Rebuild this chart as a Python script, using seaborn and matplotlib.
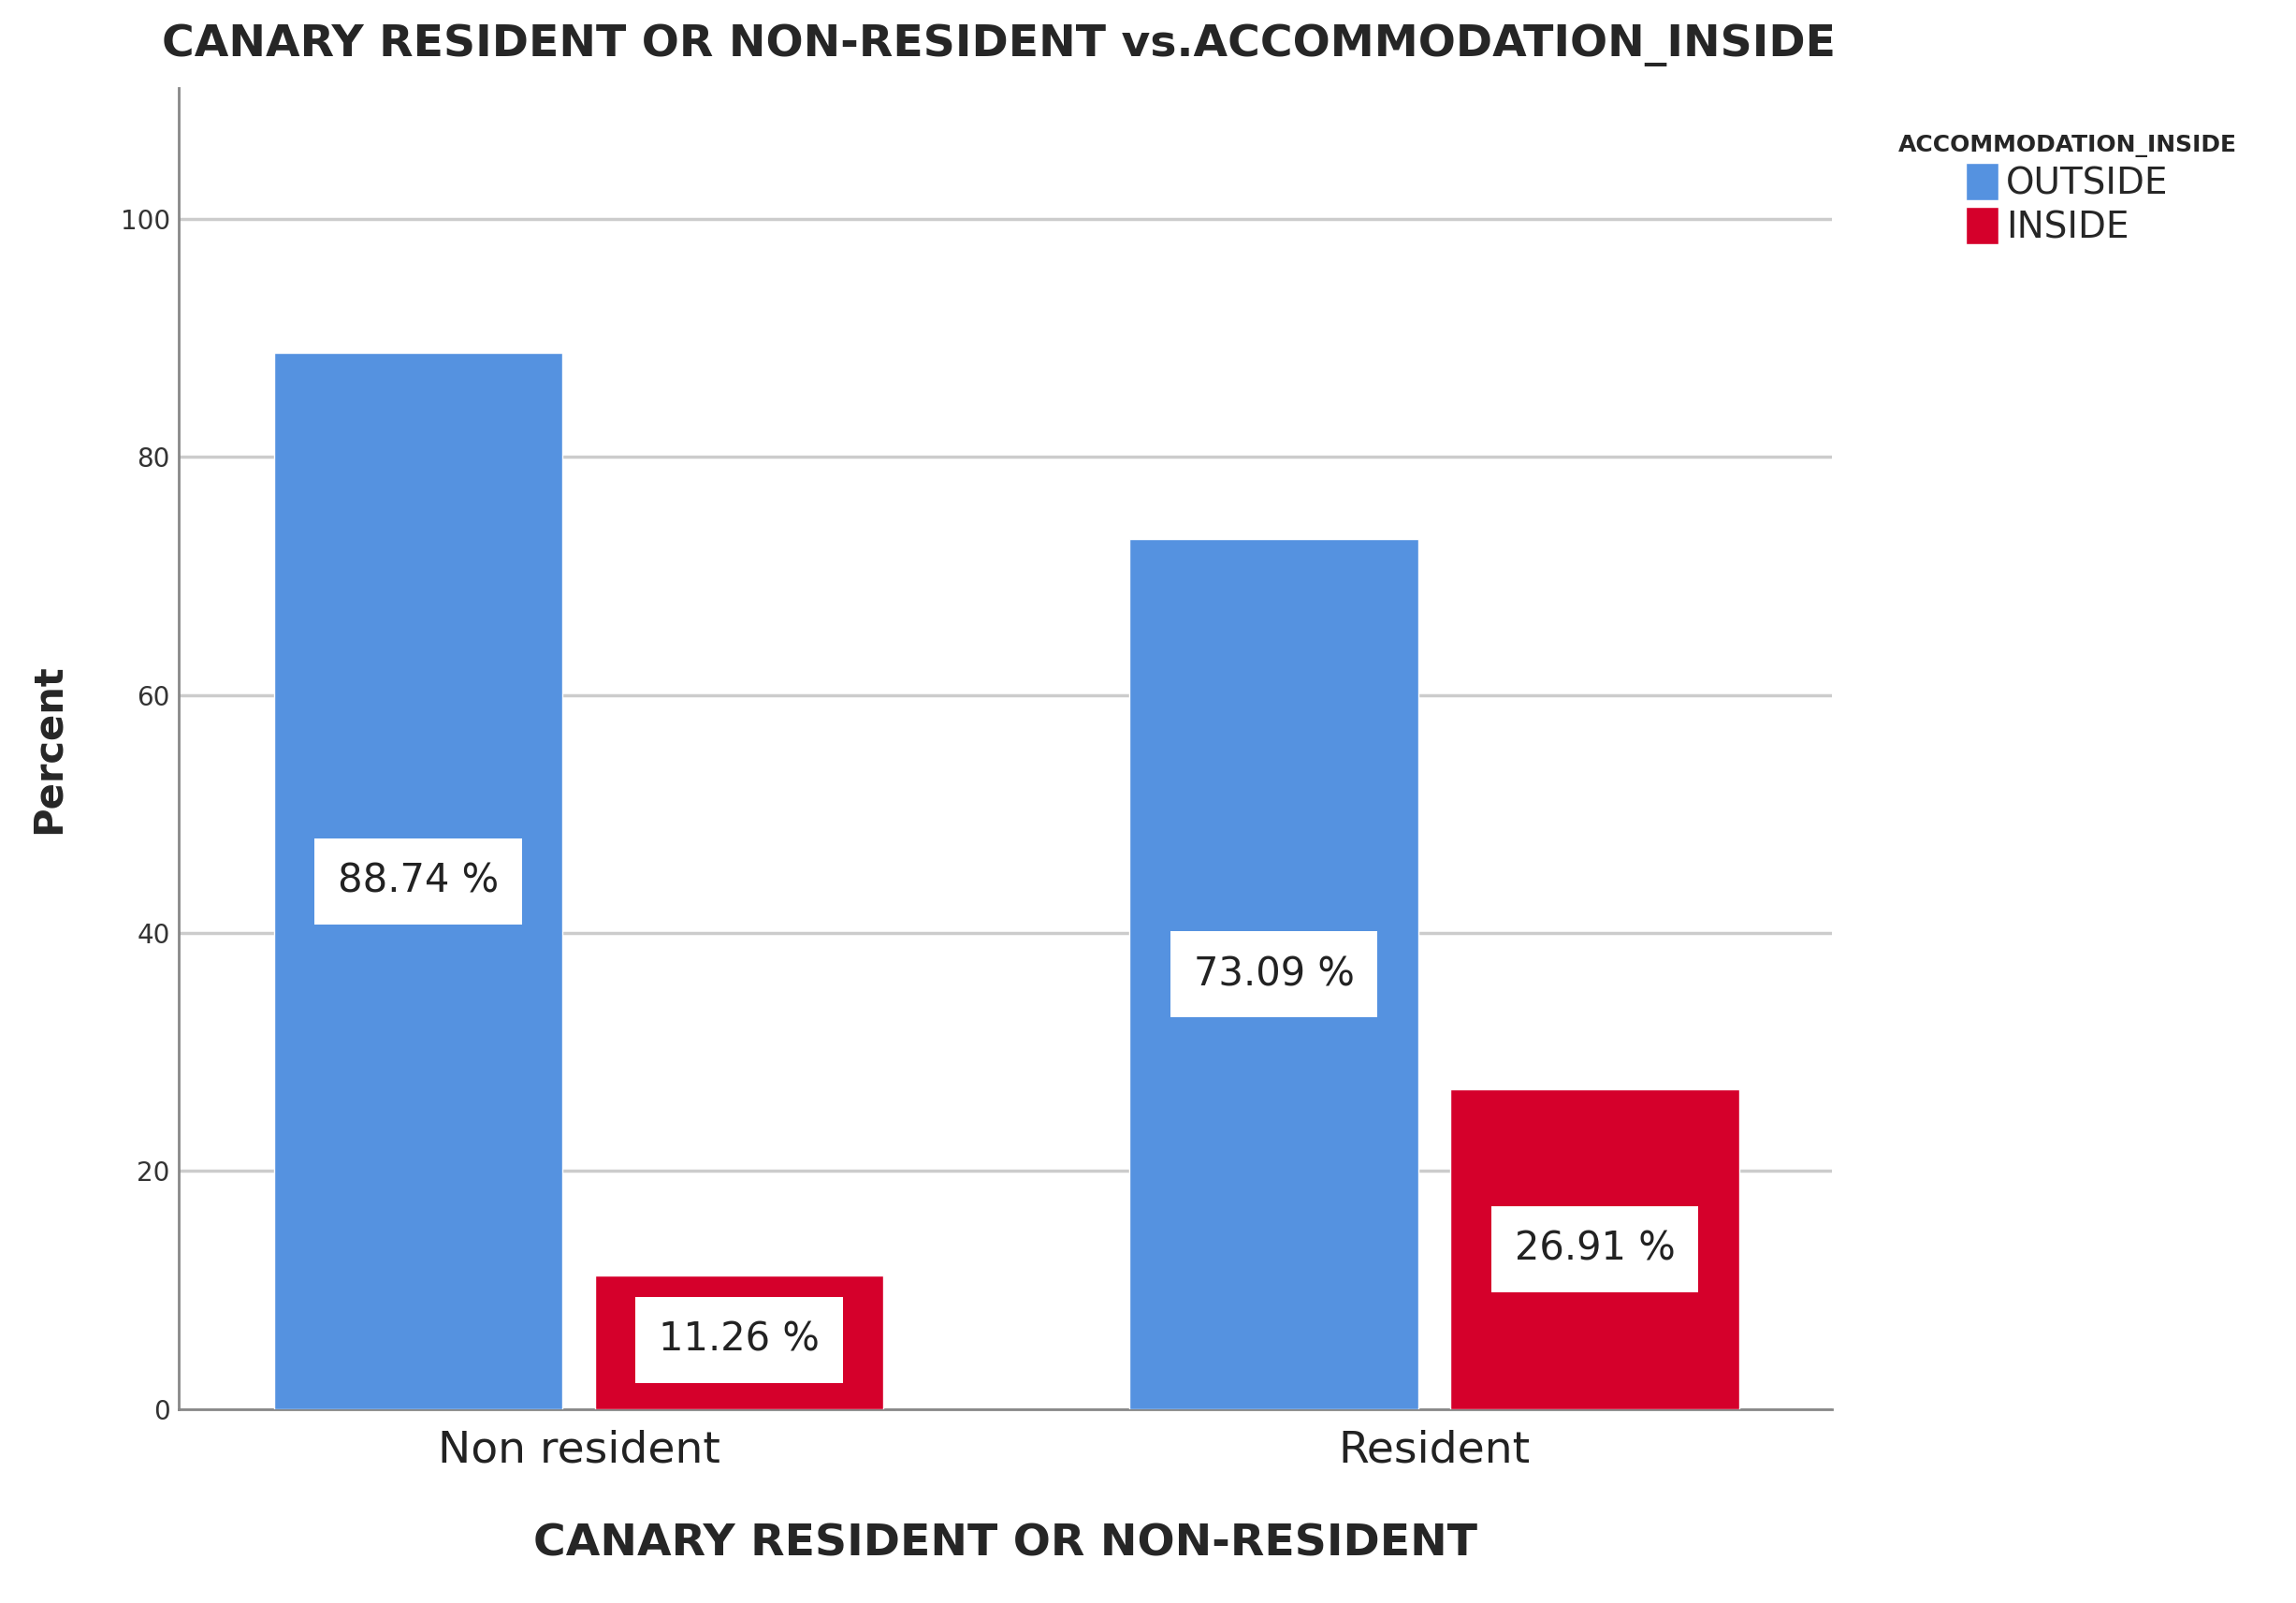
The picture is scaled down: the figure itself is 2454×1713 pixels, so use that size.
import matplotlib
matplotlib.use("Agg")
import matplotlib.pyplot as plt
import seaborn as sns
import pandas as pd

categories = ["Non resident", "Non resident", "Resident", "Resident"]
groups = ["OUTSIDE", "INSIDE", "OUTSIDE", "INSIDE"]
values = [88.74, 11.26, 73.09, 26.91]
yticks = [0, 20, 40, 60, 80, 100]

df = pd.DataFrame({"cat": categories, "grp": groups, "val": values})
sns.set_style("white")
plt.rcParams['font.family'] = ['DejaVu Sans']

fig = plt.figure(figsize=(24.54, 17.13), dpi=100)
ax = fig.add_axes([0.078, 0.121, 0.72, 0.824])
palette = {"OUTSIDE": "#5592E0", "INSIDE": "#D5002B"}
sns.barplot(data=df, x="cat", y="val", hue="grp", palette=palette, width=0.75, gap=0.1,
            saturation=1, ax=ax, zorder=3, legend=True)

for cont in ax.containers:
    for bar in cont:
        h = bar.get_height()
        ax.text(bar.get_x() + bar.get_width() / 2, h / 2 if h > 20 else h / 2 + 0.2,
                f"{h:.2f} %", ha="center", va="center", fontsize=30, color="#222222",
                bbox=dict(facecolor="white", edgecolor="none", pad=18), zorder=5)

ax.set_ylim(0, 111)
ax.set_xlim(-0.467, 1.465)
ax.set_yticks(yticks)
ax.yaxis.grid(True, color="#cccccc", linewidth=2.5, zorder=0)
ax.tick_params(axis="y", labelsize=20, colors="#333333")
ax.tick_params(axis="x", labelsize=34, colors="#222222", pad=12)
for s in ["top", "right"]:
    ax.spines[s].set_visible(False)
for s in ["left", "bottom"]:
    ax.spines[s].set_color("#888888")
    ax.spines[s].set_linewidth(2)
ax.set_ylabel("Percent", fontsize=30, fontweight="bold", labelpad=40)
ax.set_xlabel("CANARY RESIDENT OR NON-RESIDENT", fontsize=34, fontweight="semibold", labelpad=40)
fig.suptitle("CANARY RESIDENT OR NON-RESIDENT vs.ACCOMMODATION_INSIDE", fontsize=34,
             fontweight="semibold", x=0.435, y=0.985)

leg = ax.legend(title="ACCOMMODATION_INSIDE", loc="upper left", bbox_to_anchor=(1.02, 0.99),
                frameon=False, fontsize=28, title_fontsize=18, handlelength=0.9, handleheight=1.2,
                handletextpad=0.2, labelspacing=0.15)
leg.get_title().set_fontweight("semibold")
fig.savefig("out.png", dpi=100)
